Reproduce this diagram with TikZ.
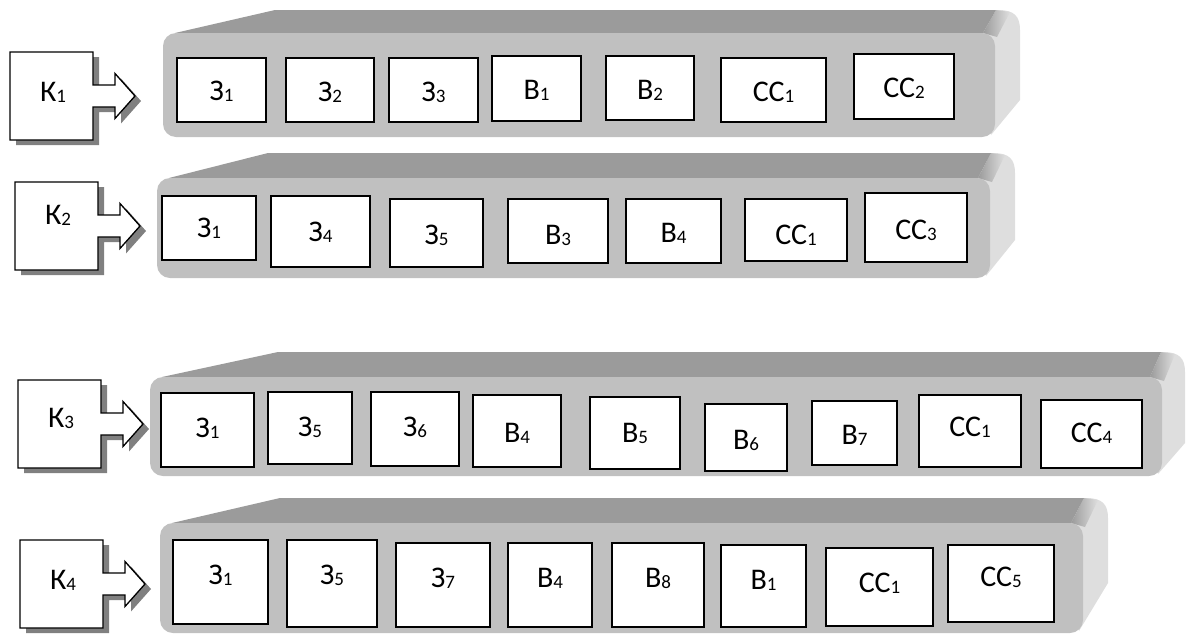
\documentclass[tikz,border=0pt]{standalone}
\usepackage{fontspec}
\setmainfont{Carlito}
\definecolor{topc}{HTML}{9B9B9B}
\definecolor{frontc}{HTML}{C0C0C0}
\definecolor{sidec}{HTML}{DEDEDE}
\definecolor{shadc}{HTML}{808080}
\newcommand\lb[2]{#1\raisebox{-1pt}{\fontsize{19}{19}\selectfont #2}}
% panel: #1 L, #2 T, #3 R, #4 B, #5 Tb, #6 xs1, #7 Rb, #8 Yd
\newcommand\panelshape[8]{%
  \fill[sidec] (#3-12,#2) -- (#7-22,#5) .. controls (#7-6,#5) and (#7,#5+6) .. (#7,#5+20) -- (#7,#8) -- (#3-4,#4-2) -- cycle;
  \shade[left color=topc, right color=sidec] (#3-12,#2) -- (#7-24,#5) -- (#7-10,#5+2) -- (#3+2,#2+4) -- cycle;
  \fill[topc] (#1+12,#2) -- (#6,#5) -- (#7-24,#5) -- (#3-12,#2) -- cycle;
  \fill[frontc, rounded corners=13pt] (#1,#2) rectangle (#3,#4);
}
% K shape: #1 x0, #2 y0, #3 arrow centre y
\newcommand\kpath[3]{(#1,#2) -- (#1+83,#2) -- (#1+83,#3-11) -- (#1+105,#3-11) -- (#1+105,#3-22.5) -- (#1+125,#3) -- (#1+105,#3+22.5) -- (#1+105,#3+11) -- (#1+83,#3+11) -- (#1+83,#2+88) -- (#1,#2+88) -- cycle}
\newcommand\kshape[6]{% x0 y0 c name texty label
  \fill[shadc, shift={(6,5)}] \kpath{#1}{#2}{#3};
  \draw[kbox] \kpath{#1}{#2}{#3};
  \node[txt] (#4) at (#1+43,#5) {#6};
}
% inner box: name x1 y1 x2 y2 label texty
\newcommand\bx[7]{%
  \node[ibox, minimum width={(#4-#2)*1pt}, minimum height={(#5-#3)*1pt}] (#1) at ({(#2+#4)/2},{(#3+#5)/2}) {};
  \node[txt] (#1-t) at ({(#2+#4)/2},#7) {#6};
}
\begin{document}
\begin{tikzpicture}[x=1pt,y=-1pt,
  ibox/.style={draw=black, line width=1.2pt, fill=white, inner sep=0pt, outer sep=0pt},
  kbox/.style={draw=black, line width=1.3pt, fill=white, line join=miter},
  txt/.style={font=\fontsize{30}{34}\selectfont, inner sep=0pt}]
\useasboundingbox (0,0) rectangle (1186,635);

% ---------- row 1
\panelshape{163}{33}{995}{137}{10}{275}{1020}{100}
\kshape{10}{52}{96}{k1}{92}{\lb{К}{1}}
\bx{a1}{177}{58}{266}{122}{\lb{З}{1}}{91}
\bx{a2}{286}{58}{374}{122}{\lb{З}{2}}{92}
\bx{a3}{389}{58}{478}{122}{\lb{З}{3}}{92}
\bx{a4}{492}{56}{581}{121}{\lb{В}{1}}{90}
\bx{a5}{606}{56}{694}{120}{\lb{В}{2}}{90}
\bx{a6}{721}{58}{826}{122}{\lb{СС}{1}}{92}
\bx{a7}{854}{54}{954}{119}{\lb{СС}{2}}{88}

% ---------- row 2
\panelshape{157}{178}{990}{278}{153}{268}{1015}{240}
\kshape{15}{182}{226}{k2}{215}{\lb{К}{2}}
\bx{b1}{162}{196}{256}{260}{\lb{З}{1}}{228}
\bx{b2}{271}{196}{370}{267}{\lb{З}{4}}{232}
\bx{b3}{390}{199}{483}{267}{\lb{З}{5}}{235}
\bx{b4}{508}{199}{608}{263}{\lb{В}{3}}{235}
\bx{b5}{626}{199}{721}{263}{\lb{В}{4}}{233}
\bx{b6}{745}{199}{847}{261}{\lb{СС}{1}}{235}
\bx{b7}{865}{193}{967}{262}{\lb{СС}{3}}{230}

% ---------- row 3
\panelshape{150}{377}{1162}{476}{352}{278}{1185}{443}
\kshape{18}{380}{424}{k3}{418}{\lb{К}{3}}
\bx{c1}{161}{393}{254}{467}{\lb{З}{1}}{428}
\bx{c2}{268}{392}{352}{464}{\lb{З}{5}}{427}
\bx{c3}{371}{392}{459}{466}{\lb{З}{6}}{427}
\bx{c4}{473}{395}{561}{467}{\lb{В}{4}}{433}
\bx{c5}{590}{397}{680}{469}{\lb{В}{5}}{433}
\bx{c6}{705}{404}{787}{471}{\lb{В}{6}}{440}
\bx{c7}{812}{401}{897}{465}{\lb{В}{7}}{435}
\bx{c8}{919}{395}{1021}{467}{\lb{СС}{1}}{427}
\bx{c9}{1041}{400}{1142}{468}{\lb{СС}{4}}{433}

% ---------- row 4
\panelshape{160}{523}{1083}{633}{498}{280}{1108}{583}
\kshape{20}{540}{584}{k4}{580}{\lb{К}{4}}
\bx{d1}{173}{540}{268}{624}{\lb{З}{1}}{575}
\bx{d2}{287}{540}{377}{627}{\lb{З}{5}}{575}
\bx{d3}{396}{543}{490}{627}{\lb{З}{7}}{578}
\bx{d4}{508}{543}{592}{627}{\lb{В}{4}}{578}
\bx{d5}{612}{543}{704}{627}{\lb{В}{8}}{578}
\bx{d6}{721}{545}{806}{627}{\lb{В}{1}}{580}
\bx{d7}{826}{548}{933}{626}{\lb{СС}{1}}{583}
\bx{d8}{948}{545}{1054}{622}{\lb{СС}{5}}{577}
\end{tikzpicture}
\end{document}
